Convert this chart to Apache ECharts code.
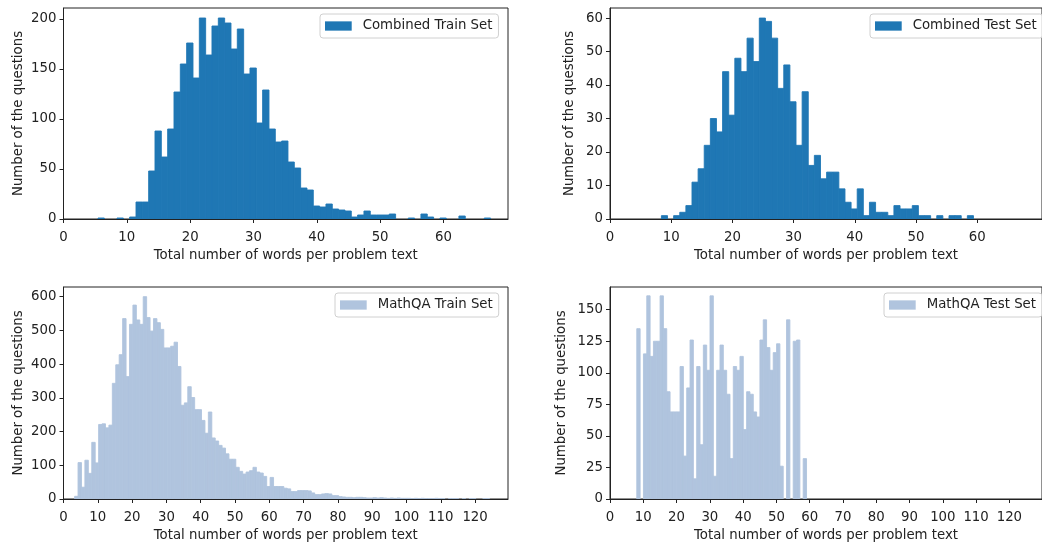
<!DOCTYPE html>
<html><head><meta charset="utf-8">
<script src="https://cdn.jsdelivr.net/npm/echarts@6/dist/echarts.min.js"></script>
<style>html,body{margin:0;padding:0;background:#fff}#c{width:1042px;height:543px}</style>
</head><body><div id="c"></div>
<script>
const xLabelText = 'Total number of words per problem text';
const yLabelText = 'Number of the questions';
const seriesNames = ['Combined Train Set', 'Combined Test Set', 'MathQA Train Set', 'MathQA Test Set'];

// histogram bins: first bin left edge, bin width, counts per bin
const binWidth = 1.0;
const combinedTrainStart = 5.45;
const combinedTrainCounts = [1,0,0,1,0,2,17,17,48,88,62,90,127,155,176,141,201,164,193,201,196,170,190,145,151,96,129,90,77,78,57,51,31,29,13,12,15,10,9,8,2,4,8,4,4,4,5,0,0,1,0,5,2,0,1,0,0,3,0,0,0,1];
const combinedTestStart = 8.4;
const combinedTestCounts = [1,0,1,2,4,11,15,22,30,26,44,31,48,44,54,47,60,59,54,39,46,35,22,38,16,19,12,14,14,9,5,3,9,1,5,2,2,1,4,3,3,4,1,1,0,1,0,1,1,0,1];
const mathqaTrainStart = 3.24;
const mathqaTrainCounts = [8,108,35,115,76,168,107,221,223,211,
  219,343,398,428,535,363,518,575,531,518,
  600,538,498,535,523,503,448,448,453,465,
  393,278,285,333,301,265,265,233,195,258,
  181,172,159,151,134,118,118,94,82,74,
  80,84,94,80,77,67,37,64,37,37,
  37,32,30,22,22,25,25,25,24,18,
  13,13,15,16,15,10,10,7,6,5,
  5,4,5,5,4,3,3,4,3,4,
  3,2,3,2,3,2,2,2,1,2,
  1,2,1,1,1,2,1,1,0,1,
  1,1,0,1,0,1,1,0,0,1,1];
const mathqaTestStart = 8.05;
const mathqaTestCounts = [135,0,115,161,113,125,125,161,135,85,
  69,69,69,105,34,88,126,16,105,43,
  122,102,161,18,102,122,102,83,32,105,
  102,113,55,85,83,69,65,126,142,120,
  102,116,123,26,0,142,0,125,126,0,32];

const xTicksCombined = [0,10,20,30,40,50,60];
const xTicksMathQA = [0,10,20,30,40,50,60,70,80,90,100,110,120];
const yTicksCombinedTrain = [0,50,100,150,200];
const yTicksCombinedTest = [0,10,20,30,40,50,60];
const yTicksMathQATrain = [0,100,200,300,400,500,600];
const yTicksMathQATest = [0,25,50,75,100,125,150];

const C_DARK = '#1f77b4', C_LIGHT = '#b0c4de';
const FONT = 'DejaVu Sans', FS = 13.3, TXT = '#222';

const panels = [
  {name: seriesNames[0], start: combinedTrainStart, counts: combinedTrainCounts, color: C_DARK,
   grid: {left: 63.5, top: 8, width: 444.5, height: 211}, xMax: 70.2, yMax: 211,
   xTicks: xTicksCombined, yTicks: yTicksCombinedTrain, yGap: 38, legend: {left: 320, top: 14}},
  {name: seriesNames[1], start: combinedTestStart, counts: combinedTestCounts, color: C_DARK,
   grid: {left: 610, top: 8, width: 444, height: 211}, xMax: 70.6, yMax: 63,
   xTicks: xTicksCombined, yTicks: yTicksCombinedTest, yGap: 34, legend: {left: 870, top: 14}},
  {name: seriesNames[2], start: mathqaTrainStart, counts: mathqaTrainCounts, color: C_LIGHT,
   grid: {left: 63.5, top: 287, width: 444.5, height: 212}, xMax: 129.6, yMax: 628.7,
   xTicks: xTicksMathQA, yTicks: yTicksMathQATrain, yGap: 38, legend: {left: 335, top: 293}},
  {name: seriesNames[3], start: mathqaTestStart, counts: mathqaTestCounts, color: C_LIGHT,
   grid: {left: 610, top: 287, width: 444, height: 212}, xMax: 129.8, yMax: 168,
   xTicks: xTicksMathQA, yTicks: yTicksMathQATest, yGap: 42, legend: {left: 884, top: 293}}
];

function renderer(color) {
  return function (params, api) {
    const x0 = api.value(0), x1 = api.value(1), v = api.value(2);
    if (!v) return null;
    const a = api.coord([x0, v]), b = api.coord([x1, 0]);
    return {type: 'rect', shape: {x: a[0], y: a[1], width: b[0] - a[0], height: b[1] - a[1]},
            style: {fill: color, stroke: color, lineWidth: 0.9}};
  };
}

const option = {backgroundColor: '#fff', animation: false, grid: [], xAxis: [], yAxis: [], series: [], legend: []};
panels.forEach((p, i) => {
  option.grid.push(Object.assign({show: true, borderColor: '#222', borderWidth: 1, backgroundColor: 'transparent'}, p.grid));
  const axisCommon = {
    gridIndex: i, type: 'value', min: 0, z: 10,
    axisLine: {show: true, onZero: false, lineStyle: {color: '#222', width: 1}},
    axisTick: {show: true, inside: false, length: 4, lineStyle: {color: '#222'}},
    splitLine: {show: false},
    nameLocation: 'middle',
    nameTextStyle: {fontFamily: FONT, fontSize: FS, color: TXT}
  };
  option.xAxis.push(Object.assign({}, axisCommon, {
    max: p.xMax, name: xLabelText, nameGap: 30,
    axisTick: Object.assign({}, axisCommon.axisTick, {customValues: p.xTicks}),
    axisLabel: {customValues: p.xTicks, fontFamily: FONT, fontSize: FS, color: TXT, margin: 12}
  }));
  option.yAxis.push(Object.assign({}, axisCommon, {
    max: p.yMax, name: yLabelText, nameGap: p.yGap,
    axisTick: Object.assign({}, axisCommon.axisTick, {customValues: p.yTicks}),
    axisLabel: {customValues: p.yTicks, fontFamily: FONT, fontSize: FS, color: TXT, margin: 7}
  }));
  option.series.push({
    type: 'custom', name: p.name, xAxisIndex: i, yAxisIndex: i,
    itemStyle: {color: p.color},
    renderItem: renderer(p.color),
    encode: {x: [0, 1], y: 2},
    data: p.counts.map((c, k) => [p.start + k * binWidth, p.start + (k + 1) * binWidth, c])
  });
  option.legend.push({
    data: [p.name], left: p.legend.left, top: p.legend.top, icon: 'rect',
    itemWidth: 26.7, itemHeight: 9.3, padding: [5.5, 6, 5.5, 5], selectedMode: false,
    backgroundColor: 'rgba(255,255,255,0.8)', borderColor: '#d0d0d0', borderWidth: 1, borderRadius: 3,
    textStyle: {fontFamily: FONT, fontSize: FS, color: TXT, padding: [0, 0, 0, 6]}
  });
});

const chart = echarts.init(document.getElementById('c'), null, {renderer: 'canvas'});
chart.setOption(option);
</script></body></html>
